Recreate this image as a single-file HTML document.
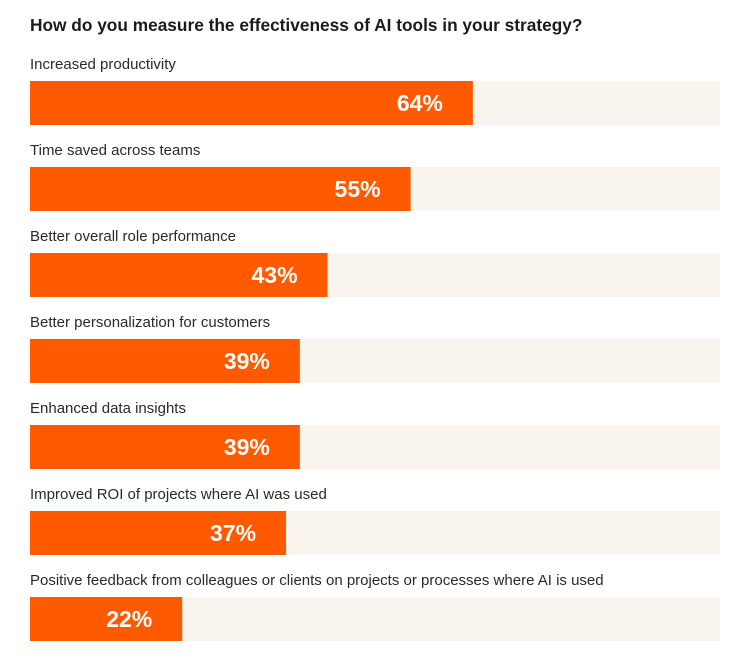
<!DOCTYPE html>
<html><head><meta charset="utf-8"><style>
html,body{margin:0;padding:0;background:#fff;width:749px;height:669px;overflow:hidden}
svg{display:block;font-family:"Liberation Sans",sans-serif}
</style></head><body>
<svg id="chart" width="749" height="669">
<text x="30" y="31" font-size="17.3" font-weight="bold" fill="#1b1b1b">How do you measure the effectiveness of AI tools in your strategy?</text>
</svg>
<script>
const categories=["Increased productivity","Time saved across teams","Better overall role performance","Better personalization for customers","Enhanced data insights","Improved ROI of projects where AI was used","Positive feedback from colleagues or clients on projects or processes where AI is used"];
const values=[64,55,43,39,39,37,22];
const valueLabels=["64%","55%","43%","39%","39%","37%","22%"];
const svg=document.getElementById('chart');
const NS='http://www.w3.org/2000/svg';
const x0=30, trackW=690, scaleW=692;
function xScale(v){return x0+v/100*scaleW;}
function yScale(i){return 81+i*86;}
function mk(tag,attrs){const e=document.createElementNS(NS,tag);for(const k in attrs)e.setAttribute(k,attrs[k]);svg.appendChild(e);return e;}
categories.forEach((c,i)=>{
  const y=yScale(i);
  const lab=mk('text',{x:x0,y:y-12,'font-size':15,fill:'#2a2a2a'});
  lab.textContent=c;
  
  
  const tr=mk('rect',{x:x0,y:y,width:trackW,height:44,fill:'#f9f4ee'});
  
  
  const b=mk('rect',{x:x0,y:y,width:xScale(values[i])-x0,height:44,fill:'#ff5a00'});
  
  
  const v=mk('text',{x:xScale(values[i])-30,y:y+30,'font-size':23,'font-weight':'bold',fill:'#fff','text-anchor':'end'});
  v.textContent=valueLabels[i];
  
  
});
</script>
</body></html>
